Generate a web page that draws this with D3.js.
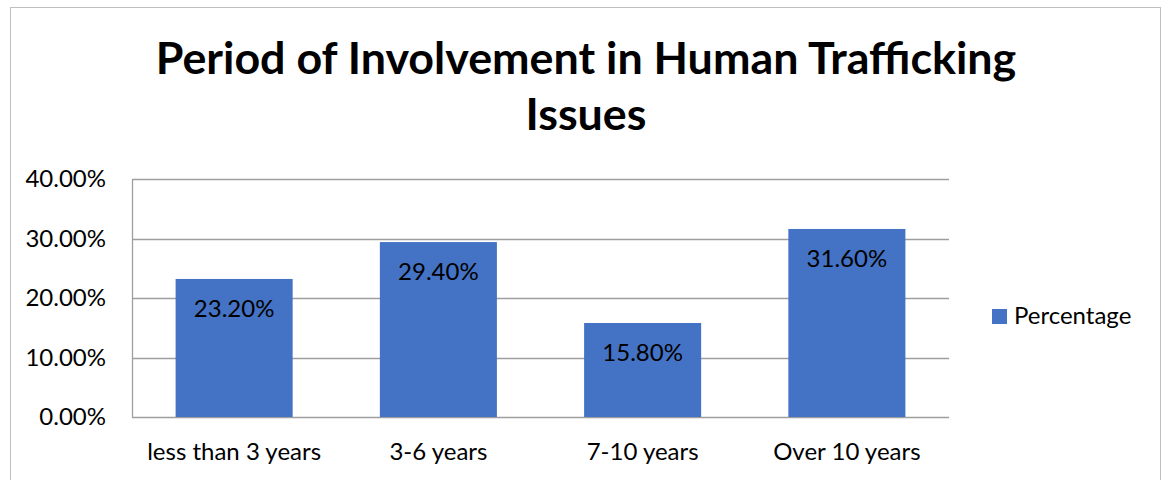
<!DOCTYPE html>
<html>
<head>
<meta charset="utf-8">
<script src="https://cdn.jsdelivr.net/npm/d3@7"></script>
<style>
  html, body { margin: 0; padding: 0; background: #fff; }
  svg { display: block; }
  text { font-family: Lato, "Open Sans", sans-serif; fill: #000; }
</style>
</head>
<body>
<div id="chart"></div>
<script>
const categories = ["less than 3 years", "3-6 years", "7-10 years", "Over 10 years"];
const percentages = [0.232, 0.294, 0.158, 0.316];
const yTicks = [0, 0.1, 0.2, 0.3, 0.4];
const seriesName = "Percentage";
const titleLines = ["Period of Involvement in Human Trafficking", "Issues"];

const width = 1162, height = 480;
const margin = { top: 179, right: 213, bottom: 63, left: 132 };
const barColor = "#4472C4";

const svg = d3.select("#chart").append("svg")
    .attr("width", width)
    .attr("height", height);

// outer chart border
svg.append("rect")
    .attr("x", 10.5).attr("y", 7.5)
    .attr("width", 1150).attr("height", 490)
    .attr("fill", "none")
    .attr("stroke", "#BFBFBF");

// title
svg.append("g").selectAll("text")
    .data(titleLines)
    .enter().append("text")
    .attr("x", 586)
    .attr("y", (d, i) => 74 + i * 56)
    .attr("text-anchor", "middle")
    .style("font-size", "44.8px")
    .style("font-weight", "bold")
    .text(d => d);

const x = d3.scaleBand()
    .domain(categories)
    .range([margin.left, width - margin.right])
    .paddingInner(0.427)
    .paddingOuter(0.2135);

const y = d3.scaleLinear()
    .domain([0, 0.4])
    .range([height - margin.bottom, margin.top]);

// gridlines
svg.append("g")
    .selectAll("line")
    .data(yTicks)
    .enter().append("line")
    .attr("x1", margin.left)
    .attr("x2", width - margin.right)
    .attr("y1", d => Math.round(y(d)) + 0.5)
    .attr("y2", d => Math.round(y(d)) + 0.5)
    .attr("stroke", "#9E9E9E")
    .attr("stroke-width", 1.3);

// y axis
const yAxis = d3.axisLeft(y)
    .tickValues(yTicks)
    .tickSize(0)
    .tickPadding(26)
    .tickFormat(d3.format(".2%"));

svg.append("g")
    .attr("transform", `translate(${margin.left},0)`)
    .style("font-size", "24px")
    .call(yAxis)
    .call(g => g.select(".domain").attr("stroke", "#9E9E9E").attr("stroke-width", 1.3))
    .call(g => g.selectAll("text").attr("fill", "#000").style("font-family", "Lato, sans-serif"));

// bars
svg.append("g")
    .selectAll("rect")
    .data(percentages)
    .enter().append("rect")
    .attr("x", (d, i) => x(categories[i]))
    .attr("y", d => y(d))
    .attr("width", x.bandwidth())
    .attr("height", d => y(0) - y(d))
    .attr("fill", barColor);

// data labels
svg.append("g")
    .selectAll("text")
    .data(percentages)
    .enter().append("text")
    .attr("x", (d, i) => x(categories[i]) + x.bandwidth() / 2)
    .attr("y", d => y(d) + 38)
    .attr("text-anchor", "middle")
    .style("font-size", "24px")
    .text(d => d3.format(".2%")(d));

// x labels
svg.append("g")
    .selectAll("text")
    .data(categories)
    .enter().append("text")
    .attr("x", d => x(d) + x.bandwidth() / 2)
    .attr("y", 460)
    .attr("text-anchor", "middle")
    .style("font-size", "24px")
    .text(d => d);

// legend
const legend = svg.append("g")
    .attr("transform", "translate(992,309)");

legend.append("rect")
    .attr("width", 15)
    .attr("height", 15)
    .attr("fill", barColor);

legend.append("text")
    .attr("x", 22)
    .attr("y", 15)
    .style("font-size", "24px")
    .text(seriesName);
</script>
</body>
</html>
